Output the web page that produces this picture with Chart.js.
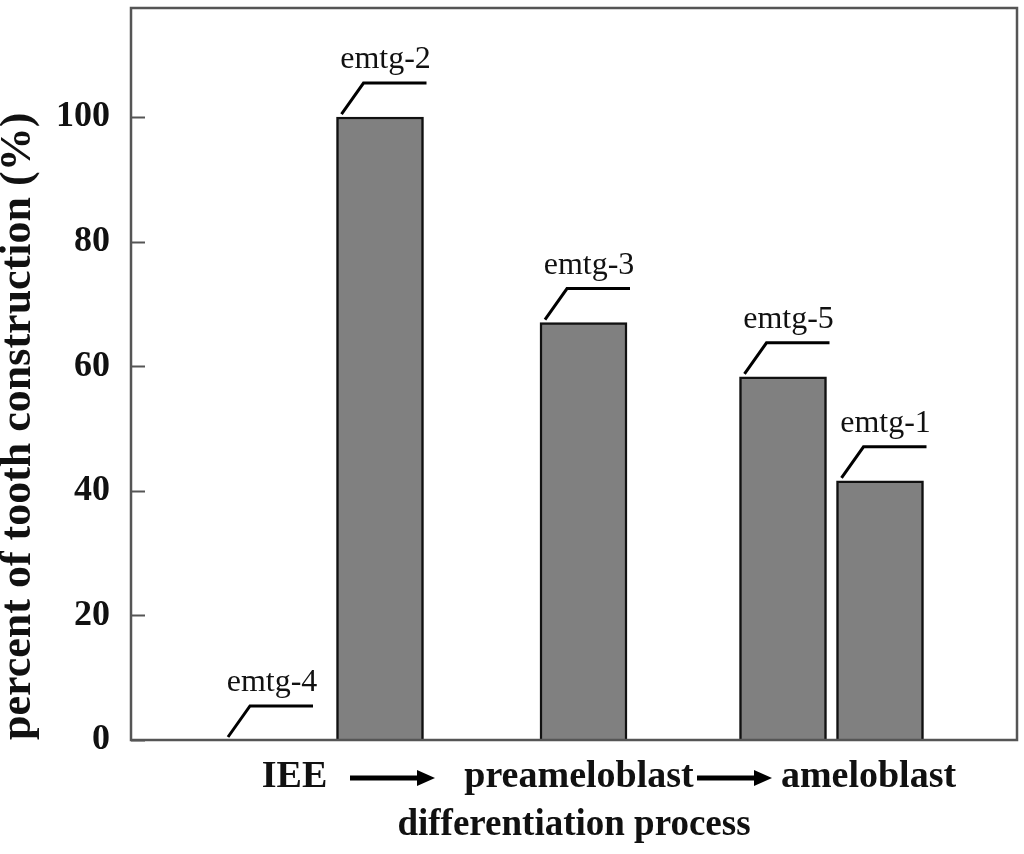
<!DOCTYPE html>
<html>
<head>
<meta charset="utf-8">
<script src="https://cdn.jsdelivr.net/npm/chart.js@4/dist/chart.umd.min.js"></script>
<style>
  html, body { margin: 0; padding: 0; background: #fff; }
  #wrap { width: 1024px; height: 854px; }
</style>
</head>
<body>
<div id="wrap"><canvas id="c" width="1024" height="854"></canvas></div>
<script>
// ---- data ----
const barLabels = ['emtg-4', 'emtg-2', 'emtg-3', 'emtg-5', 'emtg-1'];
const barPositions = [1.355, 2.49, 4.525, 6.52, 7.49];   // position along differentiation axis
const barValues = [0, 100, 67, 58.3, 41.6];                // percent of tooth construction
const stageLabels = ['IEE', 'preameloblast', 'ameloblast'];
const stagePositions = [1.635, 4.48, 7.375];
const yTicks = [0, 20, 40, 60, 80, 100];

// ---- decoration config ----
const arrowSpans = [[2.19, 3.04], [5.66, 6.41]];

const serif = "'Liberation Serif', 'Times New Roman', serif";

function zeroPad(scale) {
  scale.paddingTop = 0;
  scale.paddingBottom = 0;
  scale.paddingLeft = 0;
  scale.paddingRight = 0;
}

const decorPlugin = {
  id: 'decor',
  afterDatasetsDraw(chart) {
    const ctx = chart.ctx;
    const meta = chart.getDatasetMeta(0);
    ctx.save();
    ctx.strokeStyle = '#000';
    ctx.lineWidth = 3;
    ctx.fillStyle = '#111';
    ctx.font = "32px " + serif;
    ctx.textAlign = 'center';
    ctx.textBaseline = 'alphabetic';
    meta.data.forEach((el, i) => {
      const p = el.getProps(['x', 'y', 'width'], true);
      const sx = p.x - p.width / 2 + 5;
      const sy = p.y - 3;
      ctx.beginPath();
      ctx.moveTo(sx, sy);
      ctx.lineTo(sx + 22, sy - 31);
      ctx.lineTo(sx + 85, sy - 31);
      ctx.stroke();
      ctx.fillText(barLabels[i], sx + 44, sy - 46);
    });
    ctx.restore();
  },
  afterDraw(chart) {
    const ctx = chart.ctx;
    const a = chart.chartArea;
    const ys = chart.scales.y;
    const xs = chart.scales.x;
    ctx.save();
    // inner tick marks
    ctx.strokeStyle = '#555';
    ctx.lineWidth = 2;
    ys.ticks.forEach(t => {
      const py = Math.round(ys.getPixelForValue(t.value)) + 0.5;
      ctx.beginPath();
      ctx.moveTo(a.left, py);
      ctx.lineTo(a.left + 14, py);
      ctx.stroke();
    });
    // frame
    ctx.strokeStyle = '#555';
    ctx.lineWidth = 2.5;
    ctx.strokeRect(a.left, a.top, a.right - a.left, a.bottom - a.top);
    // arrows between stages
    ctx.strokeStyle = '#000';
    ctx.fillStyle = '#000';
    ctx.lineWidth = 5;
    const ay = a.bottom + 38;
    arrowSpans.forEach(([v1, v2]) => {
      const x1 = xs.getPixelForValue(v1);
      const x2 = xs.getPixelForValue(v2);
      ctx.beginPath();
      ctx.moveTo(x1, ay);
      ctx.lineTo(x2 - 14, ay);
      ctx.stroke();
      ctx.beginPath();
      ctx.moveTo(x2, ay);
      ctx.lineTo(x2 - 18, ay - 8);
      ctx.lineTo(x2 - 18, ay + 8);
      ctx.closePath();
      ctx.fill();
    });
    ctx.restore();
  }
};

new Chart(document.getElementById('c'), {
  type: 'bar',
  data: {
    datasets: [{
      data: barPositions.map((x, i) => ({ x: x, y: barValues[i] })),
      backgroundColor: '#808080',
      borderColor: '#111',
      borderWidth: 2.5,
      borderSkipped: 'bottom',
      barThickness: 87
    }]
  },
  options: {
    responsive: false,
    animation: false,
    layout: { padding: { top: 8, right: 7, left: 0, bottom: 0 } },
    plugins: { legend: { display: false }, tooltip: { enabled: false } },
    scales: {
      x: {
        type: 'linear',
        offset: false,
        min: 0,
        max: 8.86,
        grid: { display: false, drawTicks: false, offset: false },
        border: { display: false },
        afterBuildTicks(scale) {
          scale.ticks = stagePositions.map(v => ({ value: v }));
        },
        afterFit(scale) { scale.height = 114; zeroPad(scale); },
        ticks: {
          autoSkip: false,
          maxRotation: 0,
          padding: 14,
          color: '#111',
          font: { family: serif, size: 38, weight: 'bold' },
          callback: (v, i) => stageLabels[i]
        },
        title: {
          display: true,
          text: 'differentiation process',
          color: '#111',
          font: { family: serif, size: 37, weight: 'bold' },
          padding: { top: 0, bottom: 6 }
        }
      },
      y: {
        min: 0,
        max: 117.5,
        grid: { display: false, drawTicks: false },
        border: { display: false },
        afterBuildTicks(scale) {
          scale.ticks = yTicks.map(v => ({ value: v }));
        },
        afterFit(scale) { scale.width = 131; zeroPad(scale); },
        ticks: {
          padding: 21,
          color: '#111',
          font: { family: serif, size: 36, weight: 'bold' }
        },
        title: {
          display: true,
          text: 'percent of tooth construction (%)',
          align: 'start',
          color: '#111',
          font: { family: serif, size: 44, weight: 'bold', lineHeight: 0.85 },
          padding: { top: 0, bottom: 0 }
        }
      }
    }
  },
  plugins: [decorPlugin]
});
</script>
</body>
</html>
